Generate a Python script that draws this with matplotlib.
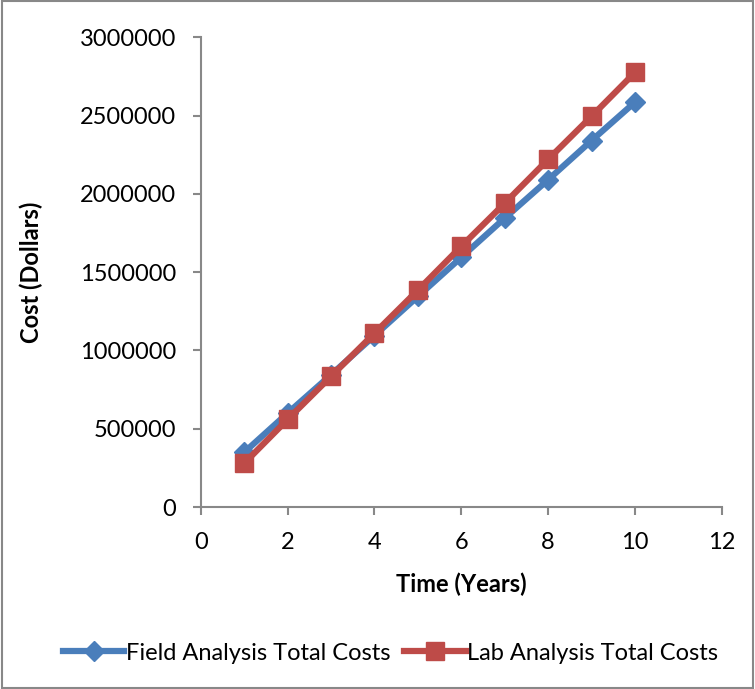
import matplotlib
matplotlib.use("Agg")
import matplotlib.pyplot as plt
from matplotlib.patches import Rectangle

years = [1, 2, 3, 4, 5, 6, 7, 8, 9, 10]
field_costs = [350000, 600000, 845000, 1095000, 1345000, 1595000, 1845000, 2090000, 2340000, 2585000]
lab_costs = [280000, 560000, 835000, 1110000, 1385000, 1665000, 1940000, 2220000, 2495000, 2775000]

plt.rcParams['font.family'] = ['Lato', 'DejaVu Sans']

fig = plt.figure(figsize=(7.55, 6.89), dpi=100)
ax = fig.add_axes([0.266, 0.264, 0.690, 0.682])

ax.plot(years, field_costs, color='#4a7ebb', lw=4.5, marker='D', ms=10,
        label='Field Analysis Total Costs', zorder=3)
ax.plot(years, lab_costs, color='#be4b48', lw=4.5, marker='s', ms=13,
        label='Lab Analysis Total Costs', zorder=4)

ax.set_xlim(0, 12)
ax.set_ylim(0, 3000000)
ax.set_xticks(range(0, 13, 2))
ax.set_yticks(range(0, 3000001, 500000))
ax.set_yticklabels([str(v) for v in range(0, 3000001, 500000)])

for s in ['top', 'right']:
    ax.spines[s].set_visible(False)
for s in ['left', 'bottom']:
    ax.spines[s].set_color('#888888')
    ax.spines[s].set_linewidth(1.5)
ax.tick_params(direction='out', length=6, width=1.5, color='#888888',
               labelsize=17, pad=12)

ax.set_xlabel('Time (Years)', fontsize=17, fontweight='bold', labelpad=14)
ax.set_ylabel('Cost (Dollars)', fontsize=17, fontweight='bold', labelpad=26)

fig.legend(loc='center', bbox_to_anchor=(0.517, 0.052), ncol=2, frameon=False,
           fontsize=17, handlelength=2.6, handletextpad=0.05, columnspacing=0.6)

fig.patches.append(Rectangle((0.002, 0.002), 0.996, 0.996, transform=fig.transFigure,
                             fill=False, edgecolor='#888888', lw=1.5))

fig.savefig('out.png', dpi=100)
